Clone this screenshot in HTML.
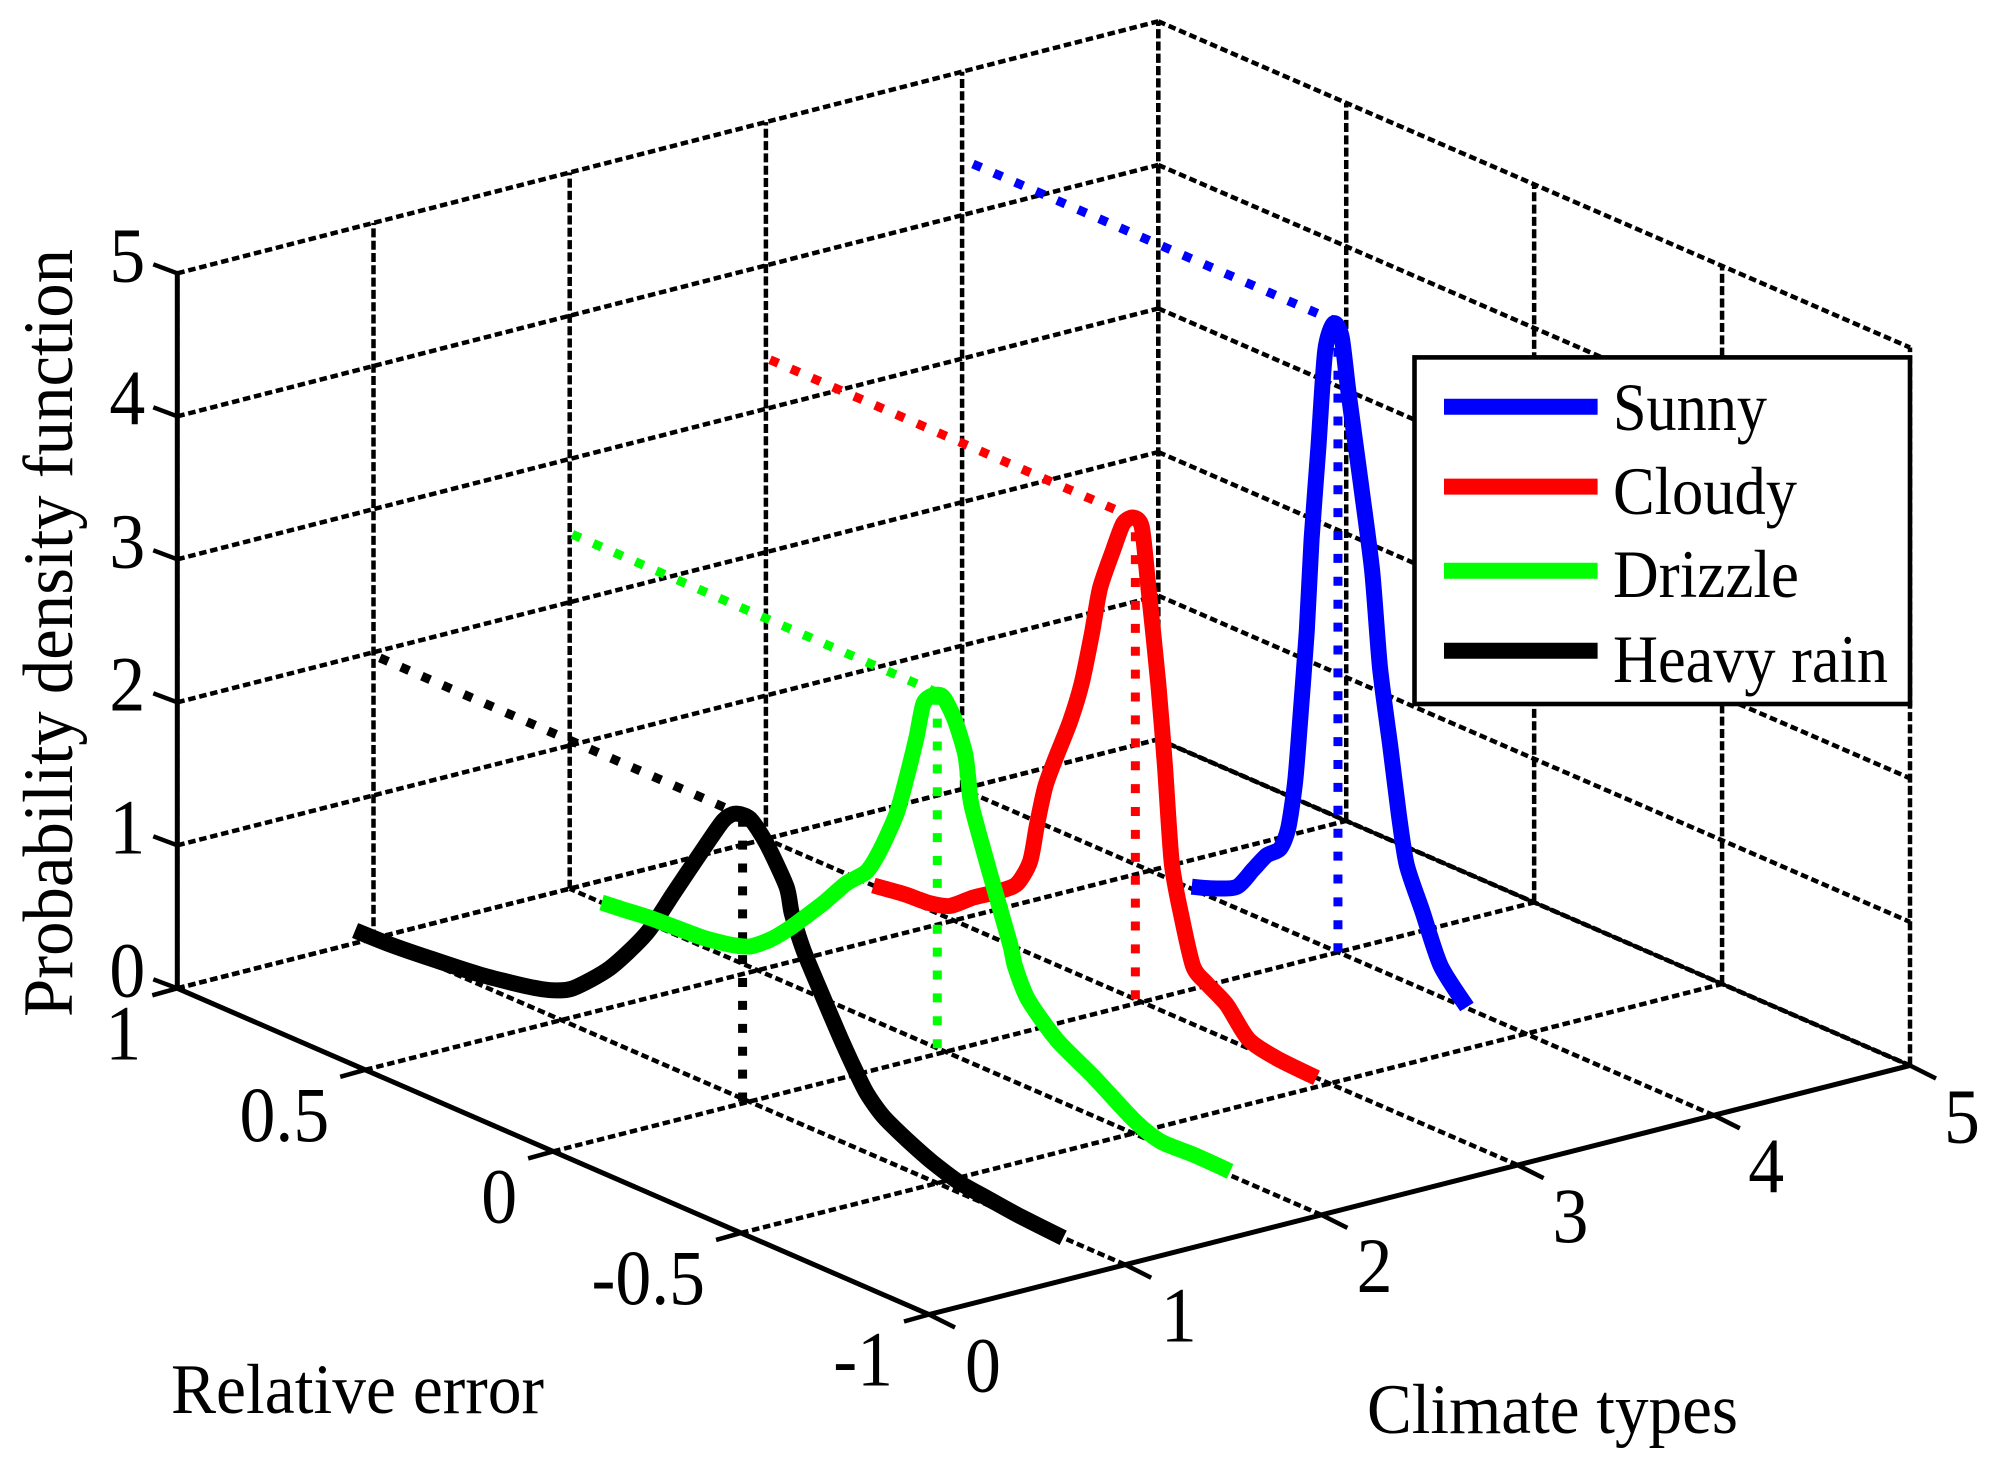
<!DOCTYPE html>
<html lang="en">
<head>
<meta charset="utf-8">
<title>Probability density by climate type</title>
<style>
html,body{margin:0;padding:0;background:#fff;}
svg{display:block;font-family:"Liberation Serif",serif;fill:#000;}
</style>
</head>
<body>
<svg id="chart" xmlns="http://www.w3.org/2000/svg" width="1997" height="1483" viewBox="0 0 1997 1483">
<rect x="0" y="0" width="1997" height="1483" fill="#fff"/>
</svg>
<script>
const climateTicks = [0, 1, 2, 3, 4, 5];
const errorTicks = [1, 0.5, 0, -0.5, -1];
const densityTicks = [0, 1, 2, 3, 4, 5];
const seriesNames = ['Sunny', 'Cloudy', 'Drizzle', 'Heavy rain'];
const seriesColors = ['#0000ff', '#ff0000', '#00ff00', '#000000'];
const seriesClimate = [4, 3, 2, 1];
const peakError = [0, 0.017, 0.022, 0.018];
const peakDensity = [4.39, 3.355, 2.482, 1.98];
const wallError = [0.971, 0.989, 0.993, 0.983];
const guideBase = [0, 0, 0, -0.02];

const sunnyError = [0.389,0.332,0.269,0.225,0.190,0.154,0.132,0.114,0.101,0.083,0.070,0.052,0.034,0.011,-0.010,-0.028,-0.061,-0.091,-0.112,-0.139,-0.162,-0.183,-0.224,-0.273,-0.343];
const sunnyDensity = [0.014,0.067,0.150,0.322,0.458,0.547,0.716,1.056,1.486,2.146,2.800,3.460,4.152,4.370,4.298,3.934,3.333,2.759,2.111,1.598,1.146,0.817,0.545,0.217,0.008];

const cloudyError = [0.714,0.634,0.563,0.510,0.448,0.386,0.333,0.297,0.279,0.257,0.231,0.191,0.160,0.133,0.111,0.076,0.049,0.022,0.000,-0.017,-0.044,-0.062,-0.080,-0.106,-0.137,-0.173,-0.226,-0.284,-0.359,-0.465];
const cloudyDensity = [0.000,0.033,0.048,0.090,0.219,0.329,0.443,0.643,0.916,1.208,1.425,1.737,2.038,2.415,2.760,3.067,3.283,3.354,3.313,2.932,2.270,1.704,1.058,0.715,0.404,0.325,0.238,0.063,0.016,0.000];

const drizzleError = [0.915,0.857,0.786,0.715,0.645,0.573,0.520,0.467,0.414,0.378,0.325,0.263,0.210,0.174,0.130,0.103,0.077,0.059,0.033,0.006,-0.025,-0.052,-0.061,-0.070,-0.118,-0.171,-0.185,-0.220,-0.296,-0.393,-0.500,-0.571,-0.659,-0.757];
const drizzleDensity = [0.000,0.017,0.040,0.051,0.062,0.096,0.144,0.251,0.393,0.503,0.668,0.878,1.019,1.210,1.517,1.802,2.111,2.363,2.451,2.469,2.343,2.141,1.965,1.789,1.381,0.954,0.806,0.614,0.421,0.276,0.096,0.026,0.033,0.028];

const heavyRainError = [1.049,0.956,0.841,0.717,0.592,0.522,0.468,0.371,0.273,0.202,0.113,0.069,0.038,-0.002,-0.046,-0.099,-0.113,-0.144,-0.188,-0.241,-0.277,-0.312,-0.356,-0.419,-0.489,-0.560,-0.632,-0.720,-0.835];
const heavyRainDensity = [0.000,0.008,0.035,0.071,0.131,0.183,0.260,0.510,0.866,1.224,1.673,1.886,1.968,1.978,1.854,1.613,1.443,1.222,0.994,0.729,0.561,0.416,0.303,0.212,0.130,0.071,0.047,0.020,0.000];

const seriesErrors = [sunnyError, cloudyError, drizzleError, heavyRainError];
const seriesDensities = [sunnyDensity, cloudyDensity, drizzleDensity, heavyRainDensity];
const curveDrawOrder = [3, 1, 2, 0];

const svg = document.getElementById('chart');
const NS = 'http://www.w3.org/2000/svg';

function project(x, y, z) {
  const t = (y + 1) / 2;
  const zScale = 143 + 0.12 * x;
  return [929 + 196.2 * x - 751.7 * t, 1314.5 - 49.8 * x - 326.2 * t - zScale * z];
}
function make(tag, attrs, parent) {
  const e = document.createElementNS(NS, tag);
  for (const k in attrs) e.setAttribute(k, attrs[k]);
  (parent || svg).appendChild(e);
  return e;
}
function segment(a, b, stroke, width, dash, parent) {
  const e = make('line', {x1: a[0], y1: a[1], x2: b[0], y2: b[1], stroke: stroke, 'stroke-width': width}, parent);
  if (dash) e.setAttribute('stroke-dasharray', dash);
  return e;
}
function smoothPath(pts) {
  let d = 'M' + pts[0][0].toFixed(1) + ' ' + pts[0][1].toFixed(1);
  for (let i = 0; i < pts.length - 1; i++) {
    const p0 = pts[Math.max(i - 1, 0)];
    const p1 = pts[i];
    const p2 = pts[i + 1];
    const p3 = pts[Math.min(i + 2, pts.length - 1)];
    const c1x = p1[0] + (p2[0] - p0[0]) / 8;
    const c1y = p1[1] + (p2[1] - p0[1]) / 8;
    const c2x = p2[0] - (p3[0] - p1[0]) / 8;
    const c2y = p2[1] - (p3[1] - p1[1]) / 8;
    d += 'C' + c1x.toFixed(1) + ' ' + c1y.toFixed(1) + ' ' + c2x.toFixed(1) + ' ' + c2y.toFixed(1) + ' ' + p2[0].toFixed(1) + ' ' + p2[1].toFixed(1);
  }
  return d;
}
function tickText(x, y, anchor, content) {
  return make('text', {transform: 'translate(' + x + ' ' + y + ') scale(0.92 1)', 'text-anchor': anchor, 'font-size': 78});
}
const SLANT = '7.5 3.8';
const VERT = '9 3.3';
const GW = 4.5;

/* grid */
const grid = make('g', {});


climateTicks.forEach(function (x) {
  const floorLine = segment(project(x, -1, 0), project(x, 1, 0), '#000', GW, SLANT, grid);
  
  
  const wallLine = segment(project(x, 1, 0), project(x, 1, 5), '#000', GW, VERT, grid);
  
  
});
errorTicks.forEach(function (y) {
  const floorLine = segment(project(0, y, 0), project(5, y, 0), '#000', GW, SLANT, grid);
  
  
  const wallLine = segment(project(5, y, 0), project(5, y, 5), '#000', GW, VERT, grid);
  
  
});
densityTicks.forEach(function (z) {
  const backLine = segment(project(0, 1, z), project(5, 1, z), '#000', GW, SLANT, grid);
  
  
  const sideLine = segment(project(5, 1, z), project(5, -1, z), '#000', GW, SLANT, grid);
  
  
});

/* axes */
const axes = make('g', {});


const zAxis = segment(project(0, 1, 0), project(0, 1, 5), '#000', 5, null, axes);


const yAxis = segment(project(0, 1, 0), project(0, -1, 0), '#000', 5, null, axes);


const xAxis = segment(project(0, -1, 0), project(5, -1, 0), '#000', 5, null, axes);


const farEdge = segment(project(5, 1, 0), project(5, -1, 0), '#000', 3.5, null, axes);



climateTicks.forEach(function (x) {
  const p = project(x, -1, 0);
  const tick = segment(p, [p[0] + 26, p[1] + 13], '#000', 4.5, null, axes);
  
  
  const label = tickText(p[0] + 54 - x * 0.4, p[1] + 77, 'middle');
  label.textContent = String(x);
  
  
});
errorTicks.forEach(function (y) {
  const p = project(0, y, 0);
  const tick = segment(p, [p[0] - 25, p[1] + 7], '#000', 4.5, null, axes);
  
  
  const label = tickText(p[0] - 36, p[1] + 71, 'end');
  label.textContent = String(y);
  
  
});
densityTicks.forEach(function (z) {
  const p = project(0, 1, z);
  const tick = segment(p, [p[0] - 24, p[1] - 9], '#000', 4.5, null, axes);
  
  
  const label = tickText(p[0] - 32, p[1] + 8, 'end');
  label.textContent = String(z);
  
  
});

/* peak guide lines */
const guides = make('g', {});


seriesNames.forEach(function (name, i) {
  const x = seriesClimate[i];
  const peak = project(x, peakError[i], peakDensity[i]);
  const wall = project(x, wallError[i], peakDensity[i]);
  const base = project(x, peakError[i], guideBase[i]);
  const across = segment(wall, peak, seriesColors[i], 9, '9 13.9', guides);
  
  
  const down = segment(base, peak, seriesColors[i], 9, '9 13.9', guides);
  
  
});

/* curves */
curveDrawOrder.forEach(function (i) {
  const pts = seriesErrors[i].map(function (y, k) {
    return project(seriesClimate[i], y, seriesDensities[i][k]);
  });
  const curve = make('path', {d: smoothPath(pts), fill: 'none', stroke: seriesColors[i], 'stroke-width': 16, 'stroke-linejoin': 'round'});
  
  
});

/* axis titles */
const xTitle = make('text', {x: 1367, y: 1433, 'font-size': 71, textLength: 371, lengthAdjust: 'spacingAndGlyphs'});
xTitle.textContent = 'Climate types';


const yTitle = make('text', {x: 171, y: 1413, 'font-size': 71, textLength: 373, lengthAdjust: 'spacingAndGlyphs'});
yTitle.textContent = 'Relative error';


const zTitle = make('text', {x: 0, y: 0, 'font-size': 71, textLength: 768, lengthAdjust: 'spacingAndGlyphs', transform: 'translate(72 1017) rotate(-90)'});
zTitle.textContent = 'Probability density function';



/* legend */
const legend = make('g', {});


const legendBox = make('rect', {x: 1414.5, y: 357.4, width: 495.5, height: 346.6, fill: '#fff', stroke: '#000', 'stroke-width': 4.6}, legend);


const legendLineRows = [406.7, 486.6, 570.8, 650.7];
const legendTextRows = [430, 514, 597, 682];
const legendTextWidths = [154, 184, 186, 275];
seriesNames.forEach(function (name, i) {
  const swatch = make('line', {x1: 1444, x2: 1597.6, y1: legendLineRows[i], y2: legendLineRows[i], stroke: seriesColors[i], 'stroke-width': 16}, legend);
  
  
  const label = make('text', {x: 1613, y: legendTextRows[i], 'font-size': 68, textLength: legendTextWidths[i], lengthAdjust: 'spacingAndGlyphs'}, legend);
  label.textContent = name;
  
  
});
</script>
</body>
</html>
